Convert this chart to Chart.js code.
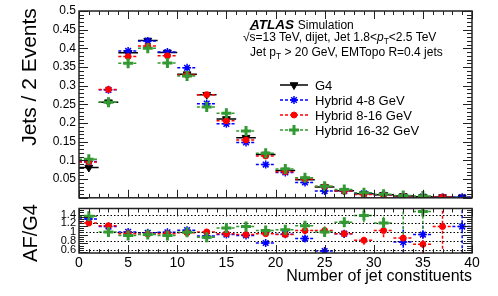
<!DOCTYPE html>
<html>
<head>
<meta charset="utf-8">
<script src="https://cdn.jsdelivr.net/npm/chart.js@4/dist/chart.umd.min.js"></script>
<style>
  body { margin: 0; background: #fff; }
  #wrap { position: relative; width: 498px; height: 296px; overflow: hidden; font-family: "Liberation Sans", Arial, sans-serif; color: #000; }
  canvas { position: absolute; left: 0; }
  .t { position: absolute; white-space: nowrap; transform: translateY(-50%); line-height: 1; }
  .rot { position: absolute; white-space: nowrap; transform: translate(-50%, -50%) rotate(-90deg); line-height: 1; }
  sub { font-size: 70%; vertical-align: -0.35em; }
</style>
</head>
<body>
<div id="wrap">
  <canvas id="main" width="498" height="208" style="top:0"></canvas>
  <canvas id="ratio" width="498" height="96" style="top:200px"></canvas>

  <div class="rot" style="left:28px; top:77px; font-size:21px">Jets / 2 Events</div>
  <div class="rot" style="left:30px; top:233px; font-size:20px">AF/G4</div>
  <div class="t" style="right:26px; top:276px; font-size:16px">Number of jet constituents</div>

  <div class="t" style="left:250px; top:25px; font-size:13.5px"><b><i>ATLAS</i></b> <span style="font-size:12px">Simulation</span></div>
  <div class="t" style="left:243px; top:38px; font-size:12px">√<span style="text-decoration:overline">s</span>=13 TeV, dijet, Jet 1.8&lt;<i>p</i><sub>T</sub>&lt;2.5 TeV</div>
  <div class="t" style="left:250px; top:53px; font-size:12px">Jet p<sub>T</sub> &gt; 20 GeV, EMTopo R=0.4 jets</div>

  <div class="t" style="left:315px; top:85px; font-size:13px">G4</div>
  <div class="t" style="left:315px; top:100px; font-size:13px">Hybrid 4-8 GeV</div>
  <div class="t" style="left:315px; top:115px; font-size:13px">Hybrid 8-16 GeV</div>
  <div class="t" style="left:315px; top:130px; font-size:13px">Hybrid 16-32 GeV</div>
</div>
<script>
// bin centres (bin width 2)
const bins = [1, 3, 5, 7, 9, 11, 13, 15, 17, 19, 21, 23, 25, 27, 29, 31, 33, 35, 37, 39];

// Jets / 2 Events
const g4 = [0.081, 0.256, 0.388, 0.421, 0.389, 0.331, 0.276, 0.211, 0.161, 0.116, 0.073, 0.048, 0.029, 0.019, 0.011, 0.008, 0.005, 0.003, 0.002, 0.0015];
const hyb48 = [0.097, 0.289, 0.393, 0.420, 0.390, 0.348, 0.252, 0.198, 0.148, 0.089, 0.068, 0.041, 0.018, 0.018, 0.012, 0.008, 0.004, 0.003, 0.001, 0.0017];
const hyb816 = [0.096, 0.290, 0.378, 0.406, 0.380, 0.329, 0.276, 0.206, 0.155, 0.112, 0.070, 0.050, 0.030, 0.018, 0.009, 0.008, 0.0045, 0.0022, 0.0023, null];
const hyb1632 = [0.103, 0.256, 0.360, 0.400, 0.361, 0.326, 0.243, 0.226, 0.179, 0.119, 0.077, 0.054, 0.031, 0.022, 0.0135, 0.0095, 0.006, 0.0045, null, null];
const mainErr = [0.004, 0.005, 0.006, 0.006, 0.006, 0.005, 0.005, 0.005, 0.004, 0.004, 0.003, 0.003, 0.002, 0.002, 0.002, 0.001, 0.001, 0.001, 0.001, 0.001];

// AF/G4 ratios
const ratio48 = [1.30, 1.13, 1.01, 0.99, 1.00, 1.05, 0.92, 0.95, 0.93, 0.76, 0.96, 0.86, 0.58, 0.97, null, null, 0.78, 0.95, null, 1.13];
const ratio816 = [1.21, 1.15, 0.97, 0.96, 0.97, 0.99, 1.01, 0.97, 0.95, 0.97, 0.95, 1.04, 1.04, 0.97, 0.82, 1.04, 0.87, 0.73, 1.13, null];
const ratio1632 = [1.36, 1.01, 0.93, 0.95, 0.93, 1.00, 0.89, 1.10, 1.13, 1.04, 1.06, 1.15, 1.01, 1.23, 1.38, 1.21, 1.70, 1.47, null, null];
const ratioErr48 = [0.06, 0.03, 0.02, 0.02, 0.02, 0.02, 0.03, 0.03, 0.04, 0.05, 0.06, 0.07, 0.09, 0.10, null, null, 0.35, 0.20, null, 0.60];
const ratioErr816 = [0.06, 0.03, 0.02, 0.02, 0.02, 0.02, 0.03, 0.03, 0.04, 0.05, 0.06, 0.07, 0.09, 0.10, 0.10, 0.15, 0.10, 0.20, 0.50, null];
const ratioErr1632 = [0.06, 0.03, 0.02, 0.02, 0.02, 0.02, 0.03, 0.03, 0.04, 0.05, 0.06, 0.07, 0.09, 0.10, 0.15, 0.15, 0.75, 0.50, null, null];
const ratioTicks = [0.6, 0.8, 1.0, 1.2, 1.4];

const FONT = '"Liberation Sans", Arial, sans-serif';
const BLUE = '#0000ff', RED = '#ff0000', GREEN = '#339933';

const styles = {
  g4: { pointStyle: 'triangle', rotation: 180, pointRadius: 4.5, borderWidth: 1, color: '#000', dash: [] },
  b: { pointStyle: 'star', rotation: 0, pointRadius: 4, borderWidth: 1.5, color: BLUE, dash: [3, 2] },
  r: { pointStyle: 'circle', rotation: 0, pointRadius: 3, borderWidth: 1, color: RED, dash: [3, 2] },
  g: { pointStyle: 'cross', rotation: 0, pointRadius: 5, borderWidth: 3, color: GREEN, dash: [3, 2] },
};

function series(label, vals, errs, st, order) {
  return {
    label: label,
    data: bins.map((b, i) => ({ x: b, y: vals[i] })),
    errs: errs,
    errDash: st.dash,
    showLine: false,
    pointStyle: st.pointStyle,
    rotation: st.rotation,
    pointRadius: st.pointRadius,
    borderWidth: st.borderWidth,
    borderColor: st.color,
    backgroundColor: st.color,
    order: order,
  };
}

function fmt(v) { return String(Number(v.toFixed(2))); }

// error bars: horizontal = bin width, vertical = error
const errPlugin = {
  id: 'errbars',
  beforeDatasetsDraw(chart) {
    const { ctx, chartArea: a, scales: { x, y } } = chart;
    ctx.save();
    ctx.beginPath();
    ctx.rect(a.left, a.top, a.right - a.left, a.bottom - a.top);
    ctx.clip();
    const sets = chart.data.datasets.slice().sort((p, q) => q.order - p.order);
    for (const ds of sets) {
      ctx.strokeStyle = ds.borderColor;
      ctx.lineWidth = 1.5;
      ctx.setLineDash(ds.errDash);
      ds.data.forEach((p, i) => {
        if (p.y == null) return;
        const py = y.getPixelForValue(p.y);
        ctx.beginPath();
        ctx.moveTo(x.getPixelForValue(p.x - 1), py);
        ctx.lineTo(x.getPixelForValue(p.x + 1), py);
        const e = ds.errs[i] || 0;
        ctx.moveTo(x.getPixelForValue(p.x), y.getPixelForValue(p.y - e));
        ctx.lineTo(x.getPixelForValue(p.x), y.getPixelForValue(p.y + e));
        ctx.stroke();
      });
    }
    ctx.restore();
  }
};

// ROOT-style frame with inward ticks
function framePlugin(yMajor, yMinor, yMin, yMax, dotted) {
  return {
    id: 'frame',
    beforeDatasetsDraw(chart) {
      if (!dotted) return;
      const { ctx, chartArea: a, scales: { y } } = chart;
      ctx.save();
      ctx.strokeStyle = '#000';
      ctx.lineWidth = 1;
      ctx.setLineDash([1.5, 2]);
      for (const v of dotted) {
        const py = Math.round(y.getPixelForValue(v)) + 0.5;
        ctx.beginPath(); ctx.moveTo(a.left, py); ctx.lineTo(a.right, py); ctx.stroke();
      }
      ctx.restore();
    },
    afterDraw(chart) {
      const { ctx, chartArea: a, scales: { x, y } } = chart;
      ctx.save();
      ctx.strokeStyle = '#222';
      ctx.lineWidth = 1;
      ctx.beginPath();
      for (let v = 0; v <= 40; v++) {
        const px = Math.round(x.getPixelForValue(v)) + 0.5;
        const len = v % 5 === 0 ? 8 : 4;
        ctx.moveTo(px, a.bottom); ctx.lineTo(px, a.bottom - len);
        ctx.moveTo(px, a.top); ctx.lineTo(px, a.top + len);
      }
      const n = Math.round((yMax - yMin) / yMinor);
      for (let k = 0; k <= n; k++) {
        const v = yMin + k * yMinor;
        const py = Math.round(y.getPixelForValue(v)) + 0.5;
        const r = (v - yMin) / yMajor;
        const len = Math.abs(r - Math.round(r)) < 1e-6 ? 9 : 5;
        ctx.moveTo(a.left, py); ctx.lineTo(a.left + len, py);
        ctx.moveTo(a.right, py); ctx.lineTo(a.right - len, py);
      }
      ctx.stroke();
      ctx.lineWidth = 1.5;
      ctx.strokeRect(a.left, a.top, a.right - a.left, a.bottom - a.top);
      ctx.restore();
    }
  };
}

// legend samples (lines + markers) drawn next to the html labels
const legendPlugin = {
  id: 'legendSamples',
  afterDraw(chart) {
    const ctx = chart.ctx;
    const rows = [[85, styles.g4], [100, styles.b], [115, styles.r], [130, styles.g]];
    ctx.save();
    for (const [yy, st] of rows) {
      ctx.strokeStyle = st.color;
      ctx.fillStyle = st.color;
      ctx.lineWidth = 1.5;
      ctx.setLineDash(st.dash);
      ctx.beginPath(); ctx.moveTo(280, yy); ctx.lineTo(308, yy); ctx.stroke();
      ctx.setLineDash([]);
      ctx.lineWidth = st.borderWidth;
      Chart.helpers.drawPoint(ctx, { pointStyle: st.pointStyle, radius: st.pointRadius, rotation: st.rotation, borderWidth: st.borderWidth }, 294, yy);
    }
    ctx.restore();
  }
};

new Chart(document.getElementById('main'), {
  type: 'line',
  data: {
    datasets: [
      series('G4', g4, mainErr, styles.g4, 3),
      series('Hybrid 4-8 GeV', hyb48, mainErr, styles.b, 2),
      series('Hybrid 8-16 GeV', hyb816, mainErr, styles.r, 1),
      series('Hybrid 16-32 GeV', hyb1632, mainErr, styles.g, 0),
    ],
  },
  options: {
    responsive: false,
    animation: false,
    layout: { padding: { left: 0, right: 26, top: 11, bottom: 1 } },
    plugins: { legend: { display: false }, tooltip: { enabled: false } },
    scales: {
      x: { type: 'linear', min: 0, max: 40, display: false },
      y: {
        min: 0, max: 0.5,
        grid: { display: false, drawTicks: false }, border: { display: false },
        ticks: { stepSize: 0.05, padding: 3, autoSkip: false, color: '#000', font: { family: FONT, size: 12 }, callback: v => (v === 0 ? '' : fmt(v)) },
        afterFit: s => { s.width = 79; },
      },
    },
  },
  plugins: [errPlugin, framePlugin(0.05, 0.01, 0, 0.5, null), legendPlugin],
});

new Chart(document.getElementById('ratio'), {
  type: 'line',
  data: {
    datasets: [
      series('Hybrid 4-8 GeV', ratio48, ratioErr48, styles.b, 2),
      series('Hybrid 8-16 GeV', ratio816, ratioErr816, styles.r, 1),
      series('Hybrid 16-32 GeV', ratio1632, ratioErr1632, styles.g, 0),
    ],
  },
  options: {
    responsive: false,
    animation: false,
    layout: { padding: { left: 0, right: 26, top: 7, bottom: 0 } },
    plugins: { legend: { display: false }, tooltip: { enabled: false } },
    scales: {
      x: {
        type: 'linear', min: 0, max: 40,
        grid: { display: false, drawTicks: false }, border: { display: false },
        ticks: { stepSize: 5, padding: 2, maxRotation: 0, color: '#000', font: { family: FONT, size: 14 } },
        afterFit: s => { s.height = 43; },
      },
      y: {
        min: 0.535, max: 1.537,
        grid: { display: false, drawTicks: false }, border: { display: false },
        afterBuildTicks: s => { s.ticks = ratioTicks.map(v => ({ value: v })); },
        ticks: { padding: 3, autoSkip: false, color: '#000', font: { family: FONT, size: 11, lineHeight: 1 }, callback: v => fmt(v) },
        afterFit: s => { s.width = 79; },
      },
    },
  },
  plugins: [errPlugin, framePlugin(0.2, 0.05, 0.6 - 0.05, 1.5, ratioTicks)],
});
</script>
</body>
</html>
